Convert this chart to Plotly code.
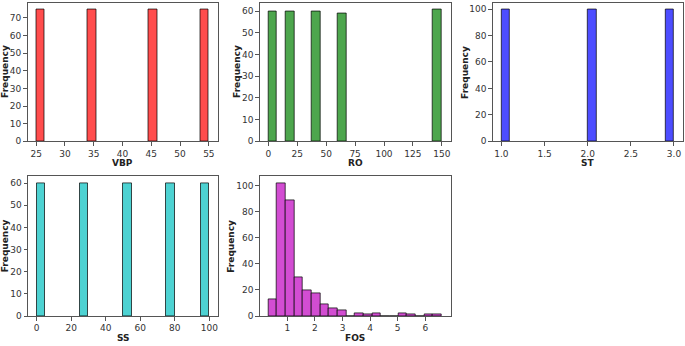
import numpy as np
import plotly.graph_objects as go

# ---- data ----
vbp_values = [25, 35, 45, 55]
vbp_counts = [75, 75, 75, 75]

ro_values = [0, 20, 40, 60, 150]
ro_counts = [60, 60, 60, 59, 61]

st_values = [1.0, 2.0, 3.0]
st_counts = [100, 100, 100]

ss_values = [0, 25, 50, 75, 100]
ss_counts = [60, 60, 60, 60, 60]

fos_min, fos_max = 0.314, 6.6
fos_counts = [13, 102, 89, 30, 20, 17, 9, 6, 4, 0, 2, 1, 2, 0, 0, 2, 1, 0, 1, 1]

N_BINS = 20

COLORS = {
    "VBP": "#ff4d4d",
    "RO": "#4da64d",
    "ST": "#4d4dff",
    "SS": "#4dd2d2",
    "FOS": "#d24dd2",
}

FONT = "DejaVu Sans"
W, H = 685, 346


def discrete_hist(values, counts):
    lo, hi = min(values), max(values)
    edges = np.linspace(lo, hi, N_BINS + 1)
    w = edges[1] - edges[0]
    centers, heights = [], []
    for v, c in zip(values, counts):
        idx = min(int((v - lo) / w + 1e-9), N_BINS - 1)
        centers.append(edges[idx] + w / 2)
        heights.append(c)
    return centers, heights, w, lo, hi


def cont_hist(lo, hi, counts):
    edges = np.linspace(lo, hi, len(counts) + 1)
    w = edges[1] - edges[0]
    centers = list(edges[:-1] + w / 2)
    return centers, list(counts), w, lo, hi


panels = [
    ("VBP", discrete_hist(vbp_values, vbp_counts), (27.5, 2.6, 217.5, 143.3),
     dict(tickvals=[25, 30, 35, 40, 45, 50, 55]), dict(tickvals=list(range(0, 80, 10))), 5),
    ("RO", discrete_hist(ro_values, ro_counts), (259.7, 2.6, 450.5, 143.3),
     dict(tickvals=[0, 25, 50, 75, 100, 125, 150]), dict(tickvals=list(range(0, 70, 10))), 237),
    ("ST", discrete_hist(st_values, st_counts), (492.8, 2.6, 682.6, 143.3),
     dict(tickvals=[1.0, 1.5, 2.0, 2.5, 3.0], tickformat=".1f"), dict(tickvals=list(range(0, 120, 20))), 465),
    ("SS", discrete_hist(ss_values, ss_counts), (28.0, 179.0, 218.0, 320.7),
     dict(tickvals=[0, 20, 40, 60, 80, 100]), dict(tickvals=list(range(0, 70, 10))), 5),
    ("FOS", cont_hist(fos_min, fos_max, fos_counts), (259.7, 179.0, 450.5, 320.7),
     dict(tickvals=[1, 2, 3, 4, 5, 6]), dict(tickvals=list(range(0, 120, 20))), 231.5),
]

fig = go.Figure()
annotations = []
axis_common = dict(
    showgrid=False, zeroline=False, showline=True, mirror=True,
    linecolor="#555555", linewidth=1, ticks="outside", ticklen=3.5,
    tickwidth=0.8, tickcolor="#555555",
    tickfont=dict(family=FONT, size=9, color="#333333"),
)

for i, (name, (centers, heights, w, lo, hi), (x0, y0, x1, y1), xt, yt, ylab_x) in enumerate(panels):
    n = i + 1
    xa = "x" if n == 1 else f"x{n}"
    ya = "y" if n == 1 else f"y{n}"
    fig.add_trace(go.Bar(
        x=centers, y=heights, width=w, xaxis=xa, yaxis=ya,
        marker=dict(color=COLORS[name], line=dict(color="rgba(0,0,0,0.7)", width=1)),
        showlegend=False,
    ))
    pad = 0.05 * (hi - lo)
    xdom = [x0 / W, x1 / W]
    ydom = [(H - y1) / H, (H - y0) / H]
    xkey = "xaxis" if n == 1 else f"xaxis{n}"
    ykey = "yaxis" if n == 1 else f"yaxis{n}"
    fig.update_layout(**{
        xkey: dict(domain=xdom, anchor=ya, range=[lo - pad, hi + pad], **xt, **axis_common),
        ykey: dict(domain=ydom, anchor=xa, range=[0, 1.05 * max(heights)], **yt, **axis_common),
    })
    # x-axis title
    annotations.append(dict(
        text=f"<b>{name}</b>", xref="paper", yref="paper",
        x=(x0 + x1) / 2 / W, y=(H - (y1 + 21.8)) / H, showarrow=False,
        xanchor="center", yanchor="middle",
        font=dict(family=FONT, size=9, color="#222222"),
    ))
    # y-axis title
    annotations.append(dict(
        text="<b>Frequency</b>", xref="paper", yref="paper",
        x=ylab_x / W, y=(H - (y0 + y1) / 2) / H, showarrow=False, textangle=-90,
        xanchor="center", yanchor="middle",
        font=dict(family=FONT, size=9, color="#222222"),
    ))

fig.update_layout(
    width=W, height=H,
    margin=dict(l=0, r=0, t=0, b=0),
    paper_bgcolor="white", plot_bgcolor="white",
    annotations=annotations,
    bargap=0,
)

fig.write_html(
    "out.html",
    config={"responsive": False, "displayModeBar": False},
    post_script=(
        "document.documentElement.style.margin='0';"
        "document.documentElement.style.overflow='hidden';"
        "document.body.style.margin='0';document.body.style.padding='0';"
        "document.body.style.overflow='hidden';"
    ),
)
